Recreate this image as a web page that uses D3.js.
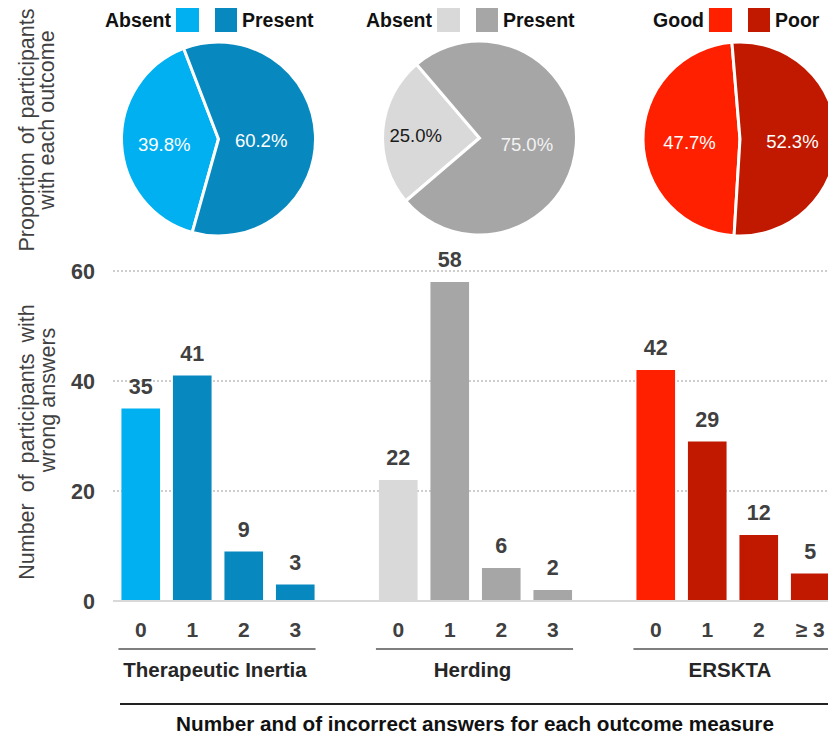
<!DOCTYPE html>
<html><head><meta charset="utf-8">
<script src="https://cdn.jsdelivr.net/npm/d3@7"></script>
<style>
body{margin:0;background:#fff;}
svg{display:block;font-family:"Liberation Sans",Arial,sans-serif;}
</style></head>
<body><svg id="c" width="828" height="736"></svg>
<script>
// ---- data ----
const groups = ["Therapeutic Inertia", "Herding", "ERSKTA"];
const answerLabels = [["0","1","2","3"], ["0","1","2","3"], ["0","1","2","≥ 3"]];
const countsInertia = [35, 41, 9, 3];
const countsHerding = [22, 58, 6, 2];
const countsErskta = [42, 29, 12, 5];
const pieInertia = [39.8, 60.2];
const pieHerding = [25.0, 75.0];
const pieErskta = [47.7, 52.3];
const legendLabels = [["Absent","Present"], ["Absent","Present"], ["Good","Poor"]];
const yTicks = [0, 20, 40, 60];

const colors = [["#00B0F0","#0789C0"], ["#D9D9D9","#A6A6A6"], ["#FF2000","#C01900"]];
const counts = [countsInertia, countsHerding, countsErskta];
const pies = [pieInertia, pieHerding, pieErskta];

const svg = d3.select("#c");
const txt = "#404040";

// ---- bar chart ----
const slots = [];
counts.forEach((g, gi) => {
  g.forEach((v, i) => slots.push({key: gi + "-" + i, gi, i, v, label: answerLabels[gi][i]}));
  if (gi < counts.length - 1) slots.push({key: "gap" + gi, gap: true});
});
const x = d3.scaleBand().domain(slots.map(d => d.key)).range([115, 836]).paddingInner(0.25).paddingOuter(0.125);
const y = d3.scaleLinear().domain([0, 60]).range([601, 271]);

// gridlines
svg.append("g").selectAll("line").data(yTicks.filter(t => t > 0)).join("line")
  .attr("x1", 113).attr("x2", 828).attr("y1", d => y(d)).attr("y2", d => y(d))
  .attr("stroke", "#BFBFBF").attr("stroke-width", 1.3).attr("stroke-dasharray", "2,2");

// y tick labels
svg.append("g").selectAll("text").data(yTicks).join("text")
  .attr("x", 95).attr("y", d => y(d) + 8).attr("text-anchor", "end")
  .attr("font-size", 21.5).attr("font-weight", "bold").attr("fill", txt).text(d => d);

const bars = slots.filter(d => !d.gap);
svg.append("g").selectAll("rect").data(bars).join("rect")
  .attr("x", d => x(d.key)).attr("width", x.bandwidth())
  .attr("y", d => y(d.v)).attr("height", d => y(0) - y(d.v))
  .attr("fill", d => colors[d.gi][d.i === 0 ? 0 : 1]);

// baseline
svg.append("line").attr("x1", 113).attr("x2", 828).attr("y1", y(0)).attr("y2", y(0))
  .attr("stroke", "#D9D9D9").attr("stroke-width", 2);

// value labels
svg.append("g").selectAll("text").data(bars).join("text")
  .attr("x", d => x(d.key) + x.bandwidth() / 2).attr("y", d => y(d.v) - 15)
  .attr("text-anchor", "middle").attr("font-size", 21.5).attr("font-weight", "bold")
  .attr("fill", txt).text(d => d.v);

// category tick labels
svg.append("g").selectAll("text").data(bars).join("text")
  .attr("x", d => x(d.key) + x.bandwidth() / 2).attr("y", 637)
  .attr("text-anchor", "middle").attr("font-size", 21).attr("font-weight", "bold")
  .attr("fill", txt).text(d => d.label);

// group underlines + labels
groups.forEach((g, gi) => {
  const gb = bars.filter(d => d.gi === gi);
  const x0 = x(gb[0].key) - 3, x1 = x(gb[gb.length - 1].key) + x.bandwidth() + 1;
  svg.append("line").attr("x1", x0).attr("x2", x1).attr("y1", 649).attr("y2", 649)
    .attr("stroke", "#7F7F7F").attr("stroke-width", 2);
  svg.append("text").attr("x", (x0 + x1) / 2 - 2).attr("y", 677).attr("text-anchor", "middle")
    .attr("font-size", 20.5).attr("font-weight", "bold").attr("fill", "#262626")
    .text(g);
});

// bottom axis title
svg.append("line").attr("x1", 120).attr("x2", 828).attr("y1", 704).attr("y2", 704)
  .attr("stroke", "#222").attr("stroke-width", 2);
svg.append("text").attr("x", 475).attr("y", 731).attr("text-anchor", "middle")
  .attr("font-size", 20.7).attr("font-weight", "bold").attr("fill", "#111")
  .text("Number and of incorrect answers for each outcome measure");

// y axis titles (each line: baseline x, centre y)
function vline(s, bx, cy, ws) {
  svg.append("text").attr("transform", `translate(${bx},${cy}) rotate(-90)`)
    .attr("text-anchor", "middle").attr("font-size", 21.5).attr("fill", txt)
    .attr("word-spacing", ws || 0).text(s);
}
vline("Proportion of participants", 34, 130, 2);
vline("with each outcome", 54, 120, 0);
vline("Number of participants with", 34, 442, 5);
vline("wrong answers", 55, 400, 0);

// ---- pies ----
const pieCenters = [[218.5, 139], [479.5, 138], [740, 139]];
const pieStart = [195.7, 229.5, 183.5];
const legendCenters = [207, 468, 740];
const labelRadius = [[0.56, 0.44], [0.66, 0.49], [0.52, 0.54]];
const r = 97;
const arc = d3.arc().innerRadius(0).outerRadius(r);
const labelColors = [["#fff","#fff"], ["#1a1a1a","#f2f2f2"], ["#fff","#fff"]];

pies.forEach((p, pi) => {
  const a0 = pieStart[pi] * Math.PI / 180;
  const arcs = d3.pie().sort(null).startAngle(a0).endAngle(a0 + 2 * Math.PI)(p);
  const g = svg.append("g").attr("transform", `translate(${pieCenters[pi][0]},${pieCenters[pi][1]})`);
  g.selectAll("path").data(arcs).join("path").attr("d", arc)
    .attr("fill", (d, i) => colors[pi][i]).attr("stroke", "#fff").attr("stroke-width", 3)
    .attr("stroke-linejoin", "miter");
  g.selectAll("text").data(arcs).join("text")
    .attr("transform", (d, i) => {
      const lr = r * labelRadius[pi][i];
      const c = d3.arc().innerRadius(lr).outerRadius(lr).centroid(d);
      return `translate(${c[0]},${c[1] + 3})`;
    })
    .attr("dy", "0.35em").attr("text-anchor", "middle").attr("font-size", 18.5)
    .attr("fill", (d, i) => labelColors[pi][i]).text(d => d.data.toFixed(1) + "%");

  // legend
  const lc = legendCenters[pi];
  const lg = svg.append("g");
  lg.append("rect").attr("x", lc - 31).attr("y", 8).attr("width", 23).attr("height", 24).attr("fill", colors[pi][0]);
  lg.append("rect").attr("x", lc + 8).attr("y", 8).attr("width", 22).attr("height", 24).attr("fill", colors[pi][1]);
  lg.append("text").attr("x", lc - 36).attr("y", 27).attr("text-anchor", "end")
    .attr("font-size", 19.5).attr("font-weight", "bold").attr("fill", "#111")
    .text(legendLabels[pi][0]);
  lg.append("text").attr("x", lc + 35).attr("y", 27).attr("text-anchor", "start")
    .attr("font-size", 19.5).attr("font-weight", "bold").attr("fill", "#111")
    .text(legendLabels[pi][1]);
});
</script></body></html>
